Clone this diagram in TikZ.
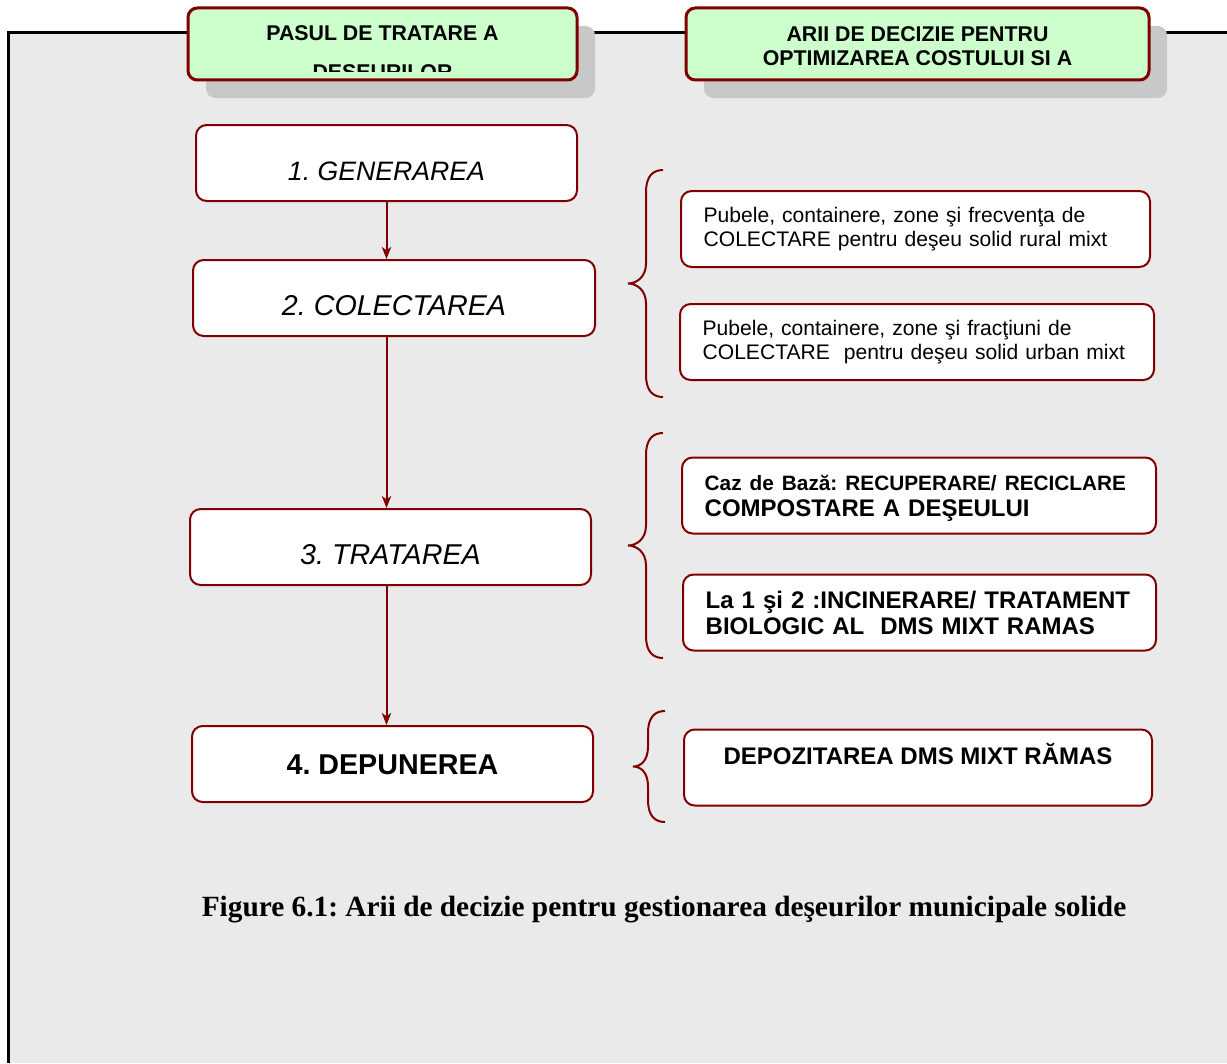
\documentclass[tikz,border=0pt]{standalone}
\usepackage{fontspec}
\setmainfont{Liberation Serif}
\setsansfont{Liberation Sans}
\usepackage{tikz}
\usetikzlibrary{calc,arrows.meta,shadows}
\usepackage{xcolor}
\definecolor{boxred}{HTML}{800000}
\definecolor{headgreen}{HTML}{CCFFCC}
\definecolor{panelgrey}{HTML}{EAEAEA}
\definecolor{shadowgrey}{HTML}{C8C8C8}
\frenchspacing

\begin{document}
\begin{tikzpicture}
	[   x=0.75pt, y=-0.75pt,
	    stepbox/.style={draw=boxred,line width=1.5pt,fill=white,rounded corners=8pt,minimum height=57pt,inner sep=0pt,font=\sffamily\fontsize{21.5}{24}\selectfont},
	    areabox/.style={draw=boxred,line width=1.5pt,fill=white,rounded corners=8pt,minimum height=57pt,inner xsep=17pt,inner ysep=0pt,align=left,font=\sffamily\fontsize{15.8}{18}\selectfont},
	    headbox/.style={draw=boxred,line width=2.25pt,fill=headgreen,rounded corners=7pt,minimum height=54pt,
	        drop shadow={shadow xshift=13.5pt,shadow yshift=-13.5pt,fill=shadowgrey,opacity=1}},
	    headtext/.style={anchor=base,font=\sffamily\bfseries\fontsize{16}{18}\selectfont},
	]
	\tikzset{normal arrow/.style={draw=boxred,line width=1.5pt,-{Stealth[length=9pt,width=7pt,inset=2.5pt]}}}
	\tikzset{brace line/.style={draw=boxred,line width=1.5pt}}
	\useasboundingbox (0,0) rectangle (1227,1063);
	
	% panel
	\fill[panelgrey] (8,33) rectangle (1227,1063);
	\draw[line width=2.25pt] (8,1063) -- (8,33) -- (1227,33);
	
	% headers
	\node[headbox,minimum width=291.75pt] (pasul) at (382.5,44) {};
	\node[headbox,minimum width=347.25pt] (arii) at (917.5,44) {};
	\begin{scope}
		\clip (190,12) rectangle (575,71.5);
		\node[headtext] (pasul-1) at (382.5,40.6) {PASUL DE TRATARE A};
		\node[headtext] (pasul-2) at (382.5,79.3) {DEŞEURILOR};
	\end{scope}
	\begin{scope}
		\clip (688,12) rectangle (1147,71.5);
		\node[headtext] (arii-1) at (917.5,41.6) {ARII DE DECIZIE PENTRU};
		\node[headtext] (arii-2) at (917.5,65.6) {OPTIMIZAREA COSTULUI SI A};
	\end{scope}
	
	% steps
	\node[stepbox,minimum width=285.75pt,text height=26pt,text depth=0pt,font=\sffamily\fontsize{20}{24}\selectfont\itshape] (gen) at (386.5,163) {1. GENERAREA};
	\node[stepbox,minimum width=301.5pt,text height=26pt,text depth=0pt,font=\sffamily\fontsize{21.5}{24}\selectfont\itshape] (col) at (394,298) {2. COLECTAREA};
	\node[stepbox,minimum width=300.75pt,text height=26pt,text depth=0pt,font=\sffamily\fontsize{21.5}{24}\selectfont\itshape] (tra) at (390.5,547) {3. TRATAREA};
	\node[stepbox,minimum width=300.75pt,text height=15.5pt,text depth=0pt,font=\sffamily\bfseries\fontsize{21.5}{24}\selectfont] (dep) at (392.5,764) {4. DEPUNEREA};
	
	\path[normal arrow] (gen.south) -- (gen.south |- col.north);
	\path[normal arrow] (col.south -| gen.south) -- (gen.south |- tra.north);
	\path[normal arrow] (tra.south -| gen.south) -- (gen.south |- dep.north);
	
	% decision areas
	\node[areabox,minimum width=351.75pt,text width=317.75pt] (rural) at (915.5,229)
		{Pubele, containere, zone şi frecvenţa de\\COLECTARE pentru deşeu solid rural mixt};
	\node[areabox,minimum width=355.5pt,text width=321.5pt] (urban) at (917,342)
		{Pubele, containere, zone şi fracţiuni de\\COLECTARE\ \ pentru deşeu solid urban mixt};
	\node[areabox,minimum width=355.5pt,text width=321.5pt,text depth=19pt,font=\sffamily\bfseries\fontsize{18}{19.5}\selectfont] (recup) at (919,495.5)
		{\mbox{\fontsize{15.6}{19.5}\selectfont Caz de Bază: RECUPERARE/ RECICLARE}\\\mbox{COMPOSTARE A DEŞEULUI}};
	\node[areabox,minimum width=354.75pt,text width=320.75pt,font=\sffamily\bfseries\fontsize{18}{19.5}\selectfont] (incin) at (919.5,612.5)
		{La 1 şi 2 :INCINERARE/ TRATAMENT\\BIOLOGIC AL\ \ DMS MIXT RAMAS};
	\node[areabox,minimum width=351pt,align=center,text height=12.9pt,text depth=17.2pt,font=\sffamily\bfseries\fontsize{18}{19.5}\selectfont] (depoz) at (918,767.5)
		{DEPOZITAREA DMS MIXT RĂMAS};
	
	% braces
	\foreach \ytop/\ybot/\xend/\depth in {170/397/663/35, 433/658/663/35, 711/822/665/32}
	{
		\pgfmathsetmacro{\ymid}{(\ytop+\ybot)/2}
		\path[brace line] (\xend,\ytop) .. controls ({\xend-10},\ytop) and ({\xend-17},{\ytop+6}) .. ({\xend-17},{\ytop+22})
			-- ({\xend-17},{\ymid-20}) .. controls ({\xend-17},{\ymid-6}) and ({\xend-\depth+8},\ymid) .. ({\xend-\depth},\ymid)
			.. controls ({\xend-\depth+8},\ymid) and ({\xend-17},{\ymid+6}) .. ({\xend-17},{\ymid+20})
			-- ({\xend-17},{\ybot-22}) .. controls ({\xend-17},{\ybot-6}) and ({\xend-10},\ybot) .. (\xend,\ybot);
	}
	
	\node[font=\bfseries\fontsize{22}{24}\selectfont] (caption) at (664,910) {Figure 6.1: Arii de decizie pentru gestionarea deşeurilor municipale solide};
\end{tikzpicture}
\end{document}
